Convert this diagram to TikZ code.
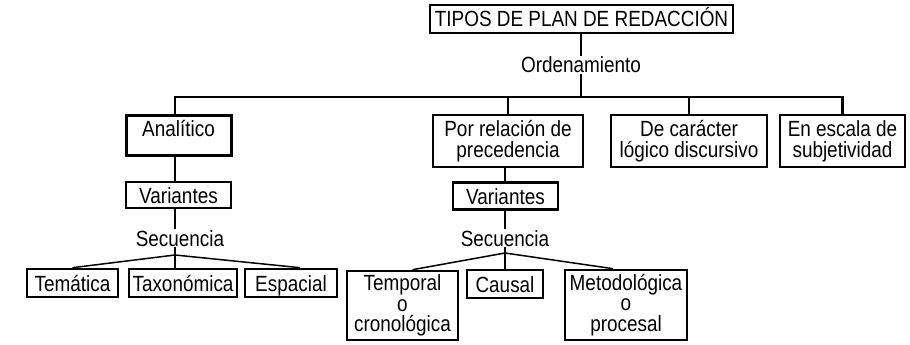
\documentclass[tikz,border=0pt]{standalone}
\usepackage{fontspec}
\setmainfont[FakeStretch=0.86]{Liberation Sans}
\begin{document}
\begin{tikzpicture}[x=1pt,y=-1pt,
  lbl/.style={font=\fontsize{22}{20.8}\selectfont, inner sep=0pt, align=center},
  one/.style={text height=17pt, text depth=1pt},
  bx/.style={lbl, draw, line width=2.2pt, rectangle, minimum width=#1},
  conn/.style={line width=2.4pt},
  diag/.style={line width=1.5pt}]
\useasboundingbox (0,0) rectangle (910,345);
% top
\node[bx=303, minimum height=28, one] (top) at (581.5,19) {TIPOS DE PLAN DE REDACCIÓN};
\node[lbl, one] (ord) at (581,65) {Ordenamiento};
% level 1
\node[bx=105, minimum height=40, line width=3pt, text height=17pt, text depth=14pt] (an) at (178.5,135) {Analítico};
\node[bx=150, minimum height=52] (pr) at (508,141) {Por relación de\\precedencia};
\node[bx=156, minimum height=52] (dc) at (689,141) {De carácter\\lógico discursivo};
\node[bx=125, minimum height=52] (ee) at (842.5,141) {En escala de\\subjetividad};
% variantes
\node[bx=105, minimum height=26, one] (v1) at (178.5,195) {Variantes};
\node[bx=105, minimum height=27, one] (v2) at (505.5,196) {Variantes};
% secuencia
\node[lbl, one] (s1) at (180,238) {Secuencia};
\node[lbl, one] (s2) at (505,238) {Secuencia};
\coordinate (j1) at (175,255);
\coordinate (j2) at (505,253);
% leaves left
\node[bx=91, minimum height=28, line width=2.6pt, one] (tem) at (72.5,283) {Temática};
\node[bx=108, minimum height=28, line width=2.6pt, one] (tax) at (183,283) {Taxonómica};
\node[bx=92, minimum height=28, line width=2.6pt, one] (esp) at (291,283) {Espacial};
% leaves middle
\node[bx=111, minimum height=69, line width=2.6pt] (tp) at (402.5,305.5) {Temporal\\o\\cronológica};
\node[bx=76, minimum height=28, line width=2.6pt, one] (ca) at (505,284) {Causal};
\node[bx=122, minimum height=70, line width=2.6pt] (me) at (626,305) {Metodológica\\o\\procesal};
% connectors
\coordinate (bus) at (175,97);
\draw[conn] (top.south -| ord) -- (ord.north);
\draw[conn] (ord.south) -- (ord.south |- bus);
\draw[conn] (an.north -| bus) -- (bus) -- (bus -| ee.north) -- (ee.north);
\draw[conn] (bus -| pr.north) -- (pr.north);
\draw[conn] (bus -| dc.north) -- (dc.north);
\draw[conn] (an.south -| bus) -- (v1.north -| bus);
\draw[conn] (v1.south -| j1) -- (s1.north -| j1);
\draw[conn] (s1.south -| j1) -- (j1);
\draw[conn] (j1) -- (tax.north -| j1);
\draw[diag] (j1) -- (tem.north);
\draw[diag] (j1) -- ([xshift=9pt]esp.north);
\draw[conn] (pr.south -| j2) -- (v2.north -| j2);
\draw[conn] (v2.south -| j2) -- (s2.north -| j2);
\draw[conn] (s2.south -| j2) -- (j2) -- (ca.north);
\draw[diag] (j2) -- ([xshift=10pt]tp.north);
\draw[diag] (j2) -- ([xshift=-13pt]me.north);
\end{tikzpicture}
\end{document}
